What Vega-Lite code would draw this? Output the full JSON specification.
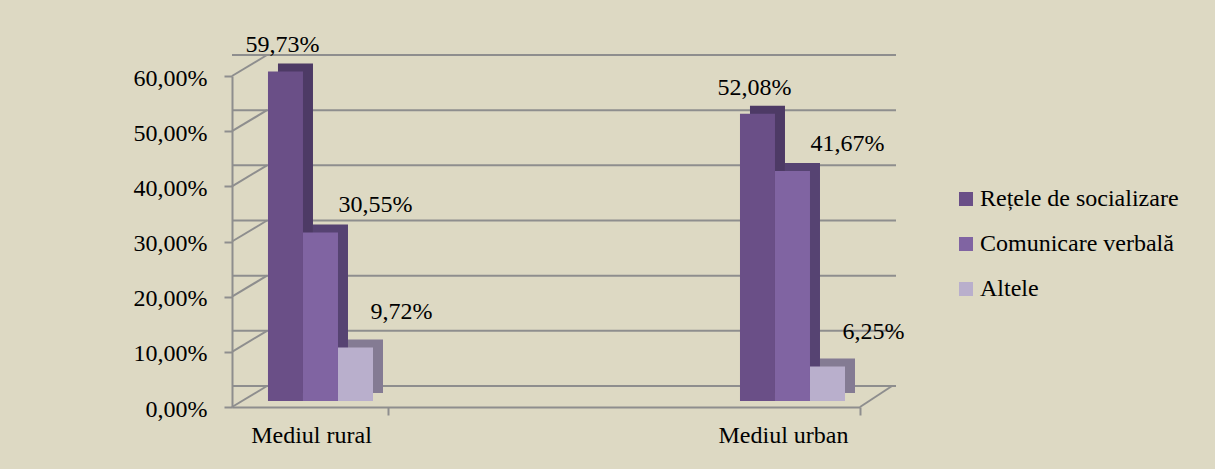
{
  "$schema": "https://vega.github.io/schema/vega-lite/v6.json",
  "width": 628,
  "height": 331,
  "autosize": "none",
  "padding": {"left": 232, "top": 76, "right": 355, "bottom": 62},
  "background": "#DDD9C3",
  "config": {
    "view": {"stroke": null},
    "font": "'Liberation Serif', 'Times New Roman', serif",
    "locale": {"number": {"decimal": ",", "thousands": ".", "grouping": [3], "currency": ["", " lei"]}},
    "axisY": {"grid": false, "domainColor": "#8E8E8E", "domainWidth": 2, "tickColor": "#8E8E8E", "tickWidth": 2, "tickSize": 8, "labelFont": "'Liberation Serif', 'Times New Roman', serif", "labelFontSize": 24, "labelColor": "#000000", "labelPadding": 17, "labelOffset": 2}
  },
  "datasets": {
    "bars": [
      {"mediu": "Mediul rural", "tip": "Rețele de socializare", "valoare": 0.5973},
      {"mediu": "Mediul rural", "tip": "Comunicare verbală", "valoare": 0.3055},
      {"mediu": "Mediul rural", "tip": "Altele", "valoare": 0.0972},
      {"mediu": "Mediul urban", "tip": "Rețele de socializare", "valoare": 0.5208},
      {"mediu": "Mediul urban", "tip": "Comunicare verbală", "valoare": 0.4167},
      {"mediu": "Mediul urban", "tip": "Altele", "valoare": 0.0625}
    ],
    "levels": [{"v": 0}, {"v": 0.1}, {"v": 0.2}, {"v": 0.3}, {"v": 0.4}, {"v": 0.5}, {"v": 0.6}]
  },
  "resolve": {"scale": {"x": "independent", "xOffset": "independent", "color": "independent"}, "axis": {"x": "independent"}},
  "layer": [
    {
      "data": {"name": "levels"},
      "mark": {"type": "rule", "color": "#8E8E8E", "strokeWidth": 2, "xOffset": 36, "x2Offset": 30, "yOffset": -21},
      "encoding": {
        "y": {"field": "v", "type": "quantitative", "scale": {"domain": [0, 0.6], "nice": false}, "axis": {"title": null, "values": [0, 0.1, 0.2, 0.3, 0.4, 0.5, 0.6], "format": ".2%"}}
      }
    },
    {
      "data": {"name": "levels"},
      "mark": {"type": "rule", "color": "#8E8E8E", "strokeWidth": 2, "x2Offset": 35, "y2Offset": -21},
      "encoding": {
        "x": {"datum": 0, "type": "quantitative", "scale": {"domain": [0, 1], "nice": false, "zero": false}, "axis": null},
        "x2": {"datum": 0},
        "y": {"field": "v", "type": "quantitative", "scale": {"domain": [0, 0.6], "nice": false}, "axis": {"title": null, "values": [0, 0.1, 0.2, 0.3, 0.4, 0.5, 0.6], "format": ".2%"}},
        "y2": {"field": "v"}
      }
    },
    {
      "data": {"name": "levels"},
      "transform": [{"filter": "datum.v == 0"}],
      "mark": {"type": "rule", "color": "#8E8E8E", "strokeWidth": 2, "x2Offset": 32, "y2Offset": -21},
      "encoding": {
        "x": {"datum": 1, "type": "quantitative", "scale": {"domain": [0, 1], "nice": false, "zero": false}, "axis": null},
        "x2": {"datum": 1},
        "y": {"field": "v", "type": "quantitative", "scale": {"domain": [0, 0.6], "nice": false}, "axis": {"title": null, "values": [0, 0.1, 0.2, 0.3, 0.4, 0.5, 0.6], "format": ".2%"}},
        "y2": {"field": "v"}
      }
    },
    {
      "data": {"name": "bars"},
      "mark": {"type": "bar", "yOffset": -14, "y2Offset": -14},
      "encoding": {
        "x": {"field": "mediu", "type": "nominal", "sort": null, "scale": {"paddingInner": 0.7775, "paddingOuter": 0.054, "align": 0.90196}, "axis": null},
        "xOffset": {"field": "tip", "type": "nominal", "sort": ["Rețele de socializare", "Comunicare verbală", "Altele"], "scale": {"paddingInner": 0, "paddingOuter": 0}},
        "y": {"field": "valoare", "type": "quantitative", "scale": {"domain": [0, 0.6], "nice": false}, "axis": {"title": null, "values": [0, 0.1, 0.2, 0.3, 0.4, 0.5, 0.6], "format": ".2%"}},
        "color": {"field": "tip", "type": "nominal", "sort": ["Rețele de socializare", "Comunicare verbală", "Altele"], "scale": {"domain": ["Rețele de socializare", "Comunicare verbală", "Altele"], "range": ["#4D3A65", "#564372", "#847B93"]}, "legend": null}
      }
    },
    {
      "data": {"name": "bars"},
      "encoding": {
        "x": {"field": "mediu", "type": "nominal", "sort": null, "scale": {"paddingInner": 0.7775, "paddingOuter": 0.054, "align": 0.70588},
          "axis": {"title": null, "domainColor": "#8E8E8E", "domainWidth": 2, "tickColor": "#8E8E8E", "tickWidth": 2, "tickSize": 8, "tickOffset": 67.5, "labelOffset": -77, "labelAngle": 0, "labelFont": "'Liberation Serif', 'Times New Roman', serif", "labelFontSize": 24, "labelColor": "#000000", "labelPadding": 8}},
        "xOffset": {"field": "tip", "type": "nominal", "sort": ["Rețele de socializare", "Comunicare verbală", "Altele"], "scale": {"paddingInner": 0, "paddingOuter": 0}},
        "y": {"field": "valoare", "type": "quantitative", "scale": {"domain": [0, 0.6], "nice": false}, "axis": {"title": null, "values": [0, 0.1, 0.2, 0.3, 0.4, 0.5, 0.6], "format": ".2%"}}
      },
      "layer": [
        {
          "mark": {"type": "bar", "yOffset": -6, "y2Offset": -6},
          "encoding": {
            "color": {"field": "tip", "type": "nominal", "sort": ["Rețele de socializare", "Comunicare verbală", "Altele"],
              "scale": {"domain": ["Rețele de socializare", "Comunicare verbală", "Altele"], "range": ["#6A4F87", "#8064A2", "#B9AFCC"]},
              "legend": {"title": null, "orient": "none", "legendX": 722, "legendY": 111, "padding": 0, "symbolType": "square", "symbolSize": 196, "symbolStrokeWidth": 0, "labelFont": "'Liberation Serif', 'Times New Roman', serif", "labelFontSize": 24, "labelColor": "#000000", "labelOffset": 2, "rowPadding": 21, "labelLimit": 400}}
          }
        },
        {
          "transform": [{"filter": "datum.tip == 'Rețele de socializare'"}],
          "mark": {"type": "text", "font": "'Liberation Serif', 'Times New Roman', serif", "fontSize": 24, "color": "#000000", "baseline": "alphabetic", "dx": -3, "dy": -25},
          "encoding": {"text": {"field": "valoare", "type": "quantitative", "format": ".2%"}}
        },
        {
          "transform": [{"filter": "datum.tip == 'Comunicare verbală'"}],
          "mark": {"type": "text", "font": "'Liberation Serif', 'Times New Roman', serif", "fontSize": 24, "color": "#000000", "baseline": "alphabetic", "dx": 55, "dy": -26},
          "encoding": {"text": {"field": "valoare", "type": "quantitative", "format": ".2%"}}
        },
        {
          "transform": [{"filter": "datum.tip == 'Altele'"}],
          "mark": {"type": "text", "font": "'Liberation Serif', 'Times New Roman', serif", "fontSize": 24, "color": "#000000", "baseline": "alphabetic", "dx": 46, "dy": -34},
          "encoding": {"text": {"field": "valoare", "type": "quantitative", "format": ".2%"}}
        }
      ]
    }
  ]
}
